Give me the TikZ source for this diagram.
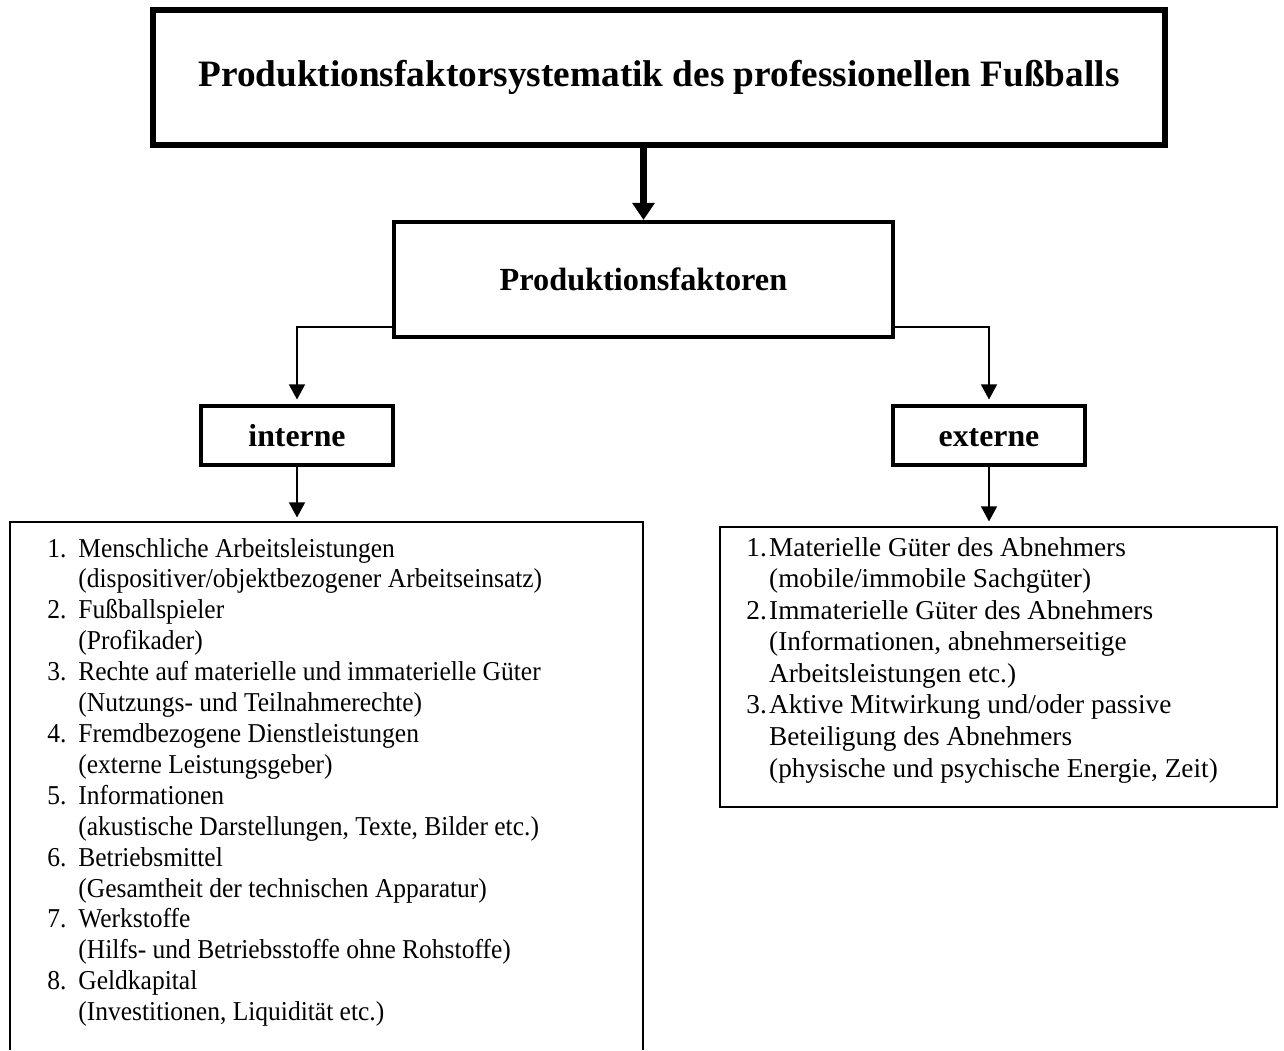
\documentclass[tikz,border=0pt]{standalone}
\usepackage{fontspec}
\setmainfont{Liberation Serif}
\newfontfamily\listfont{Liberation Serif}[FakeStretch=0.935]
\usetikzlibrary{arrows.meta}
\tikzstyle{arrow} = [line width=0.65pt,-{Triangle[width=7pt,length=6.6pt]},shorten >=2pt]
\tikzstyle{bigarrow} = [line width=2.8pt,-{Triangle[width=9.5pt,length=7.5pt]}]

\begin{document}
\begin{tikzpicture}[x=0.44pt, y=-0.44pt,
    titlebox/.style={draw, line width=2.5pt, minimum width=445.3pt, minimum height=59.4pt, font=\fontsize{16.4}{19}\selectfont\bfseries},
    mainbox/.style={draw, line width=1.8pt, minimum width=219.6pt, minimum height=50.6pt, font=\fontsize{14.2}{17}\selectfont\bfseries},
    sidebox/.style={draw, line width=1.7pt, minimum width=84.5pt, minimum height=26pt, text height=9.5pt, text depth=0pt, font=\fontsize{14}{17}\selectfont\bfseries},
    listbox/.style={draw, line width=0.9pt},
    listtext/.style={anchor=base west, inner sep=0pt}
  ]
  \useasboundingbox (0,0) rectangle (1284,1050);

  \node[titlebox] (title) at (659,77.5) {Produktionsfaktorsystematik des professionellen Fußballs};
  \node[mainbox] (prod) at (643.5,279.5) {Produktionsfaktoren};
  \node[sidebox] (interne) at (297,435.5) {interne};
  \node[sidebox] (externe) at (989,435.5) {externe};

  % list boxes
  \coordinate (intbl) at (10,1050);
  \coordinate (inttl) at (10,522);
  \coordinate (inttr) at (643,522);
  \coordinate (intbr) at (643,1050);
  \draw[listbox] (intbl) -- (inttl) -- (inttr) -- (intbr);
  \node[listbox, minimum width=245.1pt, minimum height=123.2pt, inner sep=0pt] (extbox) at (998.5,667) {};

  \node[listtext, font=\fontsize{12}{13.6}\listfont] (intlist) at (47,557) {%
    \begin{tabular}[t]{@{}p{13.6pt}@{}l@{}}
    1. & Menschliche Arbeitsleistungen\\
       & (dispositiver/objektbezogener Arbeitseinsatz)\\
    2. & Fußballspieler\\
       & (Profikader)\\
    3. & Rechte auf materielle und immaterielle Güter\\
       & (Nutzungs- und Teilnahmerechte)\\
    4. & Fremdbezogene Dienstleistungen\\
       & (externe Leistungsgeber)\\
    5. & Informationen\\
       & (akustische Darstellungen, Texte, Bilder etc.)\\
    6. & Betriebsmittel\\
       & (Gesamtheit der technischen Apparatur)\\
    7. & Werkstoffe\\
       & (Hilfs- und Betriebsstoffe ohne Rohstoffe)\\
    8. & Geldkapital\\
       & (Investitionen, Liquidität etc.)
    \end{tabular}};

  \node[listtext, font=\fontsize{12}{13.9}\selectfont] (extlist) at (746,556) {%
    \begin{tabular}[t]{@{}p{10pt}@{}l@{}}
    1. & Materielle Güter des Abnehmers\\
       & (mobile/immobile Sachgüter)\\
    2. & Immaterielle Güter des Abnehmers\\
       & (Informationen, abnehmerseitige\\
       & Arbeitsleistungen etc.)\\
    3. & Aktive Mitwirkung und/oder passive\\
       & Beteiligung des Abnehmers\\
       & (physische und psychische Energie, Zeit)
    \end{tabular}};

  % connectors
  \draw[bigarrow] (title.south -| prod.north) -- (prod.north);
  \draw[arrow] ([yshift=5.3pt]prod.south west) -| (interne.north);
  \draw[arrow] ([yshift=5.3pt]prod.south east) -| (externe.north);
  \draw[arrow] (interne.south) -- (interne.south |- inttl);
  \draw[arrow] (externe.south) -- (externe.south |- extbox.north);

\end{tikzpicture}
\end{document}
